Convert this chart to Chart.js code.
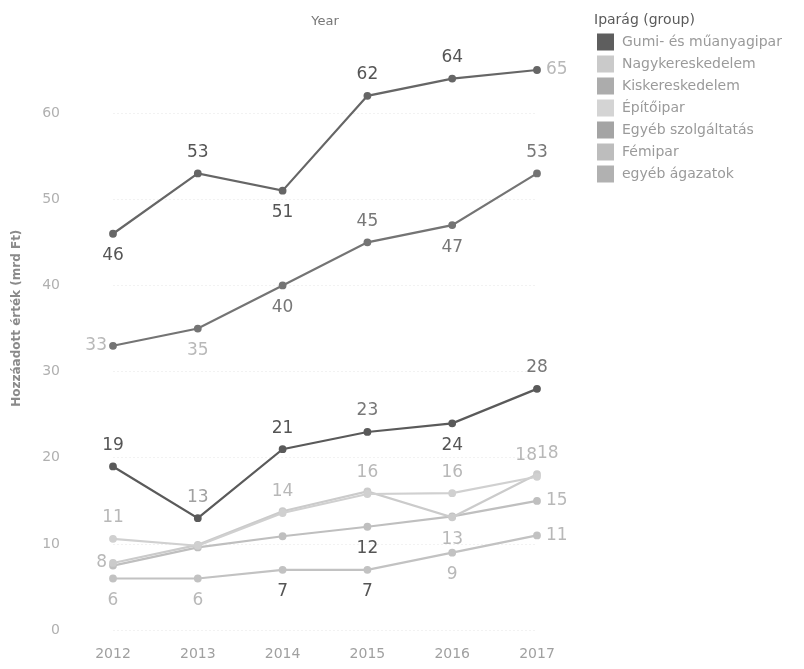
<!DOCTYPE html>
<html>
<head>
<meta charset="utf-8">
<script src="https://cdn.jsdelivr.net/npm/chart.js@4/dist/chart.umd.min.js"></script>
<style>
  html, body { margin: 0; padding: 0; background: #fff; }
</style>
</head>
<body>
<canvas id="lineChart" width="804" height="669"></canvas>
<script>
// years on the x axis
const years = ["2012", "2013", "2014", "2015", "2016", "2017"];

// series values (mrd Ft)
const gumi = [46, 53, 51, 62, 64, 65];
const nagyker = [10.6, 9.8, 13.6, 15.8, 15.9, 17.8];
const kisker = [33, 35, 40, 45, 47, 53];
const epito = [7.8, 9.9, 13.8, 16.1, 13.1, 18.1];
const egyebSzolg = [19, 13, 21, 23, 24, 28];
const femipar = [7.5, 9.6, 10.9, 12, 13.2, 15];
const egyebAg = [6, 6, 7, 7, 9, 11];

const yTickMax = 60;

function series(label, data, line, swatch, labelColors, labelPos) {
  return {
    label: label,
    data: data,
    borderColor: line,
    backgroundColor: swatch,
    pointBackgroundColor: line,
    pointBorderColor: line,
    borderWidth: 2.2,
    pointRadius: 2.8,
    pointHoverRadius: 4,
    tension: 0,
    fill: false,
    clip: false,
    labelColors: labelColors,
    labelPos: labelPos,
  };
}

const D = "#555555", M = "#777777", L = "#b8b8b8";

// a = above, b = below, r = right, l = left, al/ar = above, left/right half
const datasets = [
  series("Gumi- és műanyagipar", gumi, "#666666", "#5e5e5e", [D, D, D, D, D, L], ["b", "a", "b", "a", "a", "r"]),
  series("Nagykereskedelem", nagyker, "#d0d0d0", "#cacaca", [L, L, L, L, L, L], ["a", "", "a", "a", "a", "al"]),
  series("Kiskereskedelem", kisker, "#747474", "#acacac", [L, L, M, M, M, M], ["l", "b", "b", "a", "b", "a"]),
  series("Építőipar", epito, "#cbcbcb", "#d4d4d4", [L, L, L, L, L, L], ["l", "", "", "", "b", "ar"]),
  series("Egyéb szolgáltatás", egyebSzolg, "#5a5a5a", "#a4a4a4", [D, "#a0a0a0", D, M, D, M], ["a", "a", "a", "a", "b", "a"]),
  series("Fémipar", femipar, "#bfbfbf", "#bdbdbd", [L, L, L, D, L, L], ["", "", "", "b", "", "r"]),
  series("egyéb ágazatok", egyebAg, "#c2c2c2", "#b1b1b1", [L, L, D, D, L, L], ["b", "b", "b", "b", "b", "r"]),
];

const pointLabels = {
  id: "pointLabels",
  afterDatasetsDraw(chart) {
    const ctx = chart.ctx;
    ctx.save();
    ctx.font = "17px 'DejaVu Sans'";
    ctx.textBaseline = "middle";
    chart.data.datasets.forEach((ds, i) => {
      const meta = chart.getDatasetMeta(i);
      meta.data.forEach((pt, j) => {
        const pos = ds.labelPos[j];
        if (!pos) return;
        let x = pt.x;
        let y = pt.y;
        ctx.textAlign = "center";
        if (pos === "a") y -= 21;
        else if (pos === "b") y += 22;
        else if (pos === "r") { x += 9; ctx.textAlign = "left"; }
        else if (pos === "l") { x -= 6; ctx.textAlign = "right"; }
        else if (pos === "al") { y -= 21; ctx.textAlign = "right"; }
        else if (pos === "ar") { y -= 21; ctx.textAlign = "left"; }
        ctx.fillStyle = ds.labelColors[j];
        ctx.fillText(String(Math.round(ds.data[j])), x, y);
      });
    });
    ctx.restore();
  },
};

// "Year" header and the legend block on the right
const headers = {
  id: "headers",
  afterDraw(chart) {
    const { ctx, chartArea } = chart;
    ctx.save();
    ctx.textBaseline = "middle";
    ctx.font = "13px 'DejaVu Sans'";
    ctx.fillStyle = "#777";
    ctx.textAlign = "center";
    ctx.fillText("Year", (chartArea.left + chartArea.right) / 2, 22);

    const x0 = chartArea.right + 60;
    ctx.textAlign = "left";
    ctx.font = "14px 'DejaVu Sans'";
    ctx.fillStyle = "#5a5a5a";
    ctx.fillText("Iparág (group)", x0 - 3, 20);
    chart.data.datasets.forEach((ds, i) => {
      const cy = 42 + i * 22;
      ctx.fillStyle = ds.backgroundColor;
      ctx.fillRect(x0, cy - 8.5, 17, 17);
      ctx.fillStyle = "#9a9a9a";
      ctx.fillText(ds.label, x0 + 25, cy);
    });
    ctx.restore();
  },
};

const ctx = document.getElementById("lineChart").getContext("2d");

new Chart(ctx, {
  type: "line",
  data: {
    labels: years,
    datasets: datasets,
  },
  plugins: [pointLabels, headers],
  options: {
    responsive: false,
    animation: false,
    devicePixelRatio: 1,
    layout: {
      padding: { left: 6, top: 0, right: 267, bottom: -10 },
    },
    scales: {
      x: {
        type: "category",
        offset: false,
        grid: { display: false, drawTicks: false },
        border: { display: false },
        ticks: {
          color: "#a0a0a0",
          font: { family: "DejaVu Sans", size: 14 },
          padding: 16,
          maxRotation: 0,
        },
      },
      y: {
        min: 0,
        max: 72.4,
        grid: {
          drawTicks: false,
          color: (c) => (c.tick && c.tick.value <= yTickMax ? "rgba(0,0,0,0.05)" : "rgba(0,0,0,0)"),
        },
        border: { display: false, dash: [2, 2] },
        ticks: {
          stepSize: 10,
          color: "#b0b0b0",
          font: { family: "DejaVu Sans", size: 14 },
          padding: 53,
          callback: (v) => (v <= yTickMax ? v : ""),
        },
        title: {
          display: true,
          text: "Hozzáadott érték (mrd Ft)",
          color: "#8a8a8a",
          font: { family: "DejaVu Sans", size: 12, weight: "bold" },
          padding: { top: 4, bottom: 0 },
        },
        afterFit: (scale) => {
          scale.width = 107;
          scale.paddingTop = 0;
          scale.paddingBottom = 0;
        },
      },
    },
    plugins: {
      legend: { display: false },
      tooltip: { enabled: true },
    },
  },
});
</script>
</body>
</html>
